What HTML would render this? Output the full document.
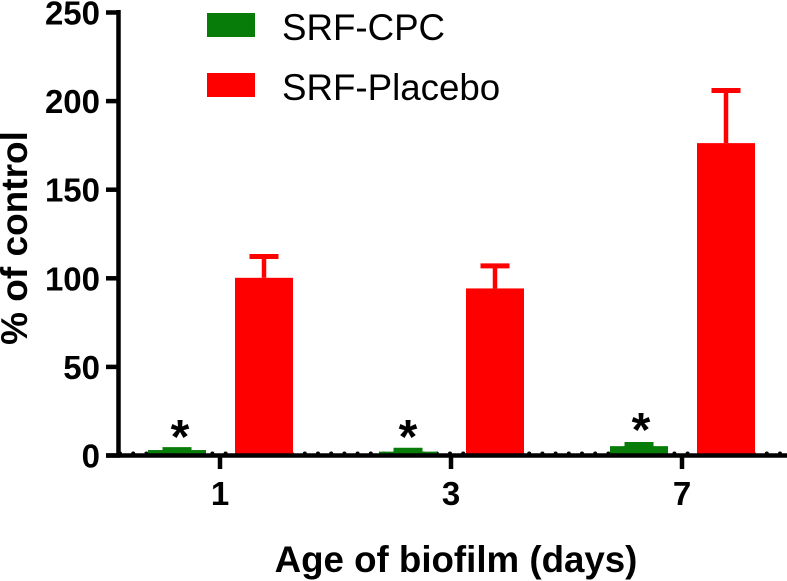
<!DOCTYPE html>
<html>
<head>
<meta charset="utf-8">
<style>
html,body{margin:0;padding:0;background:#fff;}
svg{display:block;font-family:"Liberation Sans",sans-serif;}
</style>
</head>
<body>
<svg id="chart" width="787" height="581" viewBox="0 0 787 581" xmlns="http://www.w3.org/2000/svg">
<rect width="787" height="581" fill="#fff"/>
<g id="dots"></g>
<g id="bars"></g>
<g id="axes"></g>
<g id="legend"></g>
</svg>
<script>
const categories = ['1', '3', '7'];
const seriesNames = ['SRF-CPC', 'SRF-Placebo'];
const cpcValues = [2.8, 1.9, 5];
const cpcErrors = [0.2, 0.8, 0.9];
const placeboValues = [100, 94, 176];
const placeboErrors = [12, 12.7, 29.7];
const yTicks = [0, 50, 100, 150, 200, 250];
const significance = ['*', '*', '*'];

const svg = document.getElementById('chart');
const NS = 'http://www.w3.org/2000/svg';
const y = v => 455 - v * (443 / 250);
const x = i => 220 + i * 231;
const colors = ['#087c08', '#ff0000'];

function mk(parent, tag, attrs, text) {
  const el = document.createElementNS(NS, tag);
  for (const k in attrs) el.setAttribute(k, attrs[k]);
  if (text !== undefined) el.textContent = text;
  document.getElementById(parent).appendChild(el);
  return el;
}

function drawBar(i, v, err, offset, color, kind) {
  const cx = x(i) + offset;
  const bar = mk('bars', 'rect', {x: cx - 29, y: y(v), width: 58, height: Math.max(0, y(0) - y(v)), fill: color});
  
  
  const stem = mk('bars', 'line', {x1: cx, x2: cx, y1: y(v), y2: y(v + err), stroke: color, 'stroke-width': 4.5});
  
  
  const cap = mk('bars', 'line', {x1: cx - 14.5, x2: cx + 14.5, y1: y(v + err), y2: y(v + err), stroke: color, 'stroke-width': 5});
  
  
}

// dotted baseline
const dotted = mk('dots', 'line', {x1: 120, x2: 786, y1: 453.5, y2: 453.5, stroke: '#000', 'stroke-width': 4, 'stroke-dasharray': '0 13.2', 'stroke-linecap': 'round'});



categories.forEach((c, i) => {
  drawBar(i, placeboValues[i], placeboErrors[i], 44, colors[1], 'placebo');
  drawBar(i, cpcValues[i], cpcErrors[i], -43, colors[0], 'cpc');
  const star = mk('axes', 'text', {x: x(i) - 40 + (i === 1 ? -3 : 0) + (i === 2 ? -1 : 0), y: 453 - (i === 2 ? 7 : 0), 'font-size': 48, 'font-weight': 700, 'text-anchor': 'middle', fill: '#000'}, significance[i]);
  
  
  const tick = mk('axes', 'line', {x1: x(i), x2: x(i), y1: 455, y2: 469, stroke: '#000', 'stroke-width': 4.5});
  
  
  const lab = mk('axes', 'text', {x: x(i), y: 505, 'font-size': 33, 'font-weight': 700, 'text-anchor': 'middle', fill: '#000'}, c);
  
  
});

const yAxis = mk('axes', 'line', {x1: 118.5, x2: 118.5, y1: 10, y2: 457, stroke: '#000', 'stroke-width': 4.5});


const xAxis = mk('axes', 'line', {x1: 106, x2: 787, y1: 455.5, y2: 455.5, stroke: '#000', 'stroke-width': 4.5});



yTicks.forEach(t => {
  const tick = mk('axes', 'line', {x1: 106, x2: 120, y1: y(t) + .5, y2: y(t) + .5, stroke: '#000', 'stroke-width': 4.5});
  
  
  const lab = mk('axes', 'text', {x: 100, y: y(t) + 12.5, 'font-size': 33, 'font-weight': 700, 'text-anchor': 'end', fill: '#000'}, t);
  
  
});

const yTitle = mk('axes', 'text', {x: 0, y: 0, transform: 'translate(27,238) rotate(-90)', 'font-size': 37, 'font-weight': 700, 'text-anchor': 'middle', fill: '#000'}, '% of control');


const xTitle = mk('axes', 'text', {x: 456, y: 572, 'font-size': 36.7, 'font-weight': 700, 'text-anchor': 'middle', fill: '#000'}, 'Age of biofilm (days)');



seriesNames.forEach((n, i) => {
  const top = 13 + i * 60;
  const sw = mk('legend', 'rect', {x: 207, y: top, width: 48, height: 24, fill: colors[i]});
  
  
  const t = mk('legend', 'text', {x: 282, y: top + 27, 'font-size': 36.7, fill: '#000'}, n);
  
  
});
</script>
</body>
</html>
